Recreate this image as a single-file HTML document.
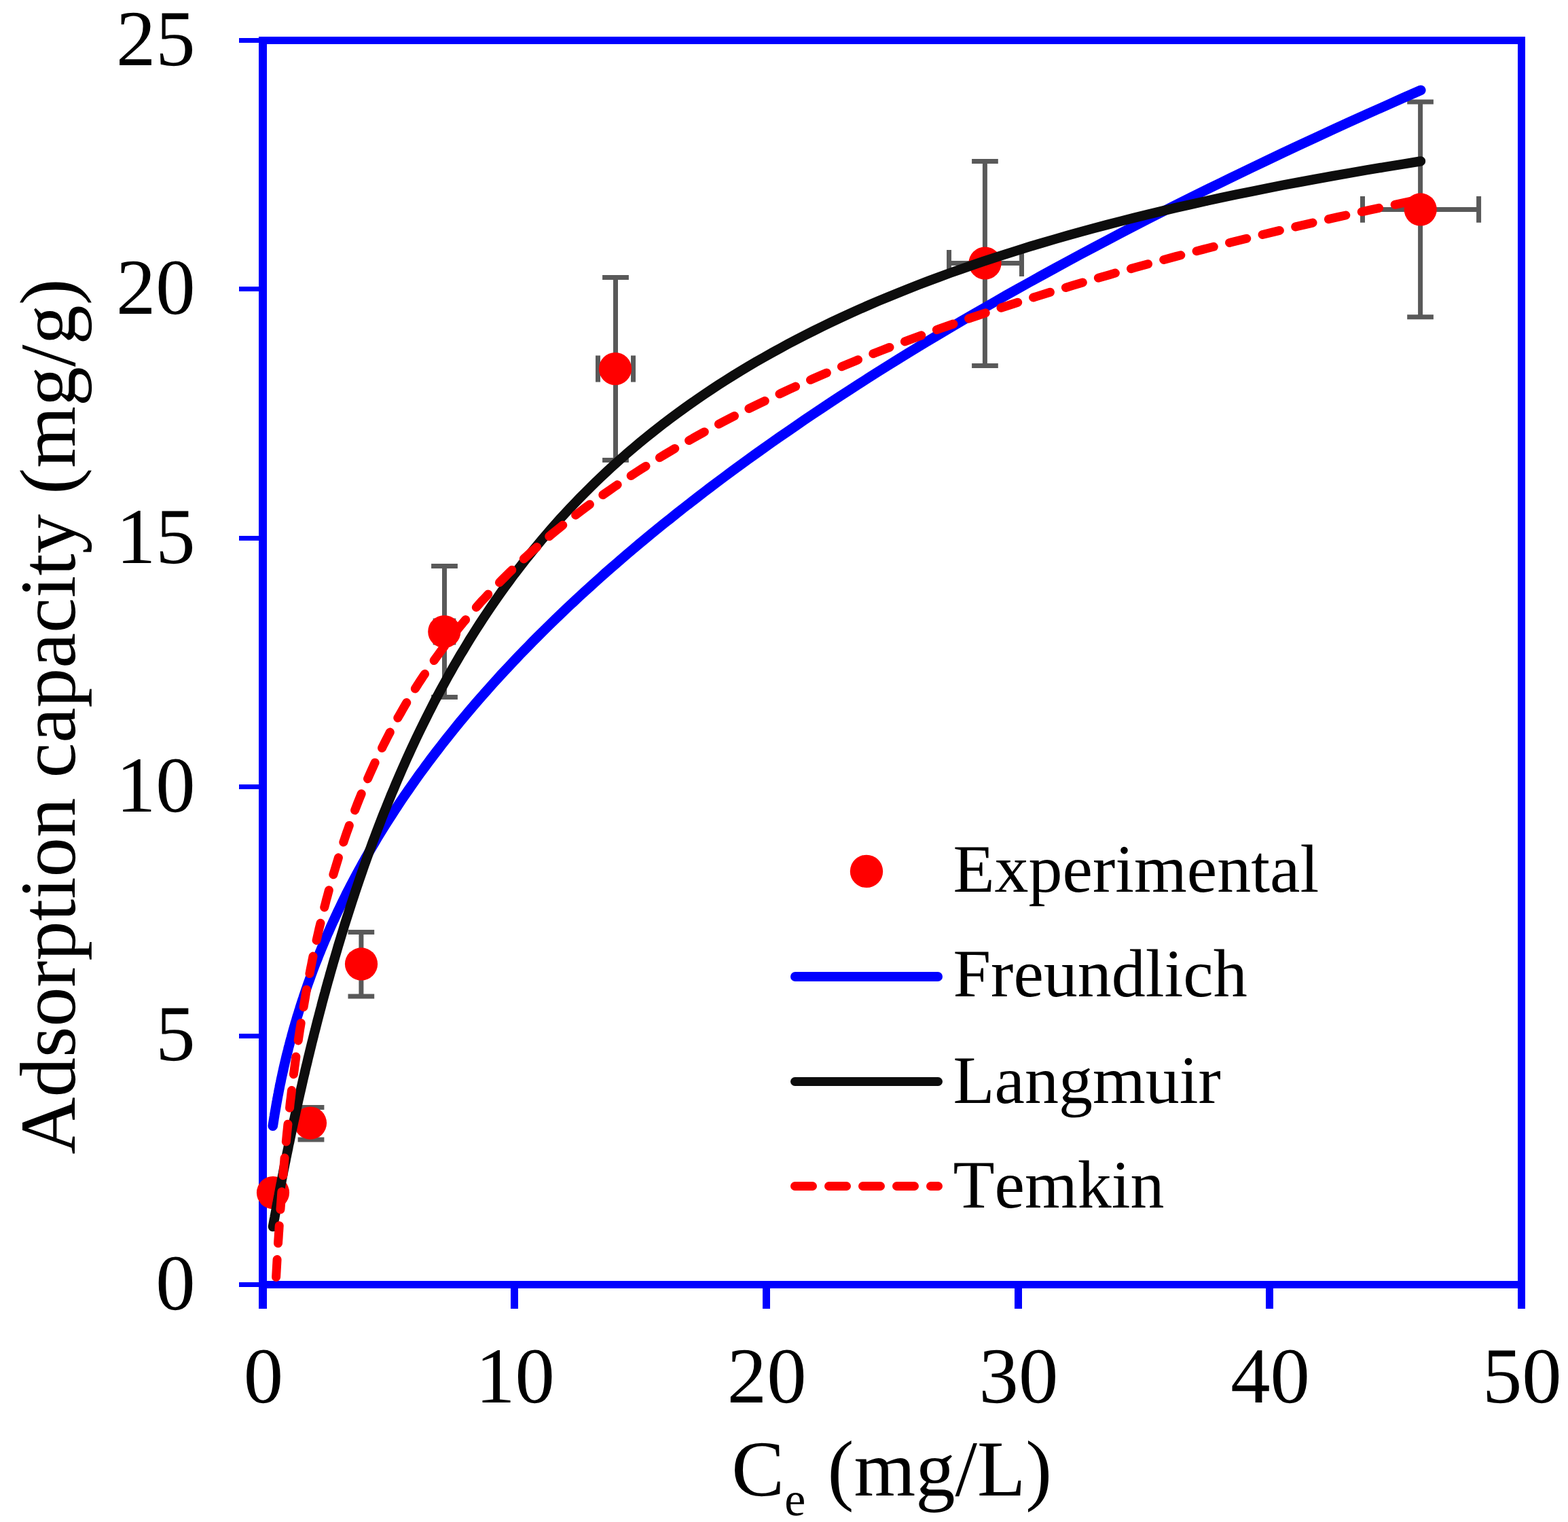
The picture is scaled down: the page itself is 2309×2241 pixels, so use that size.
<!DOCTYPE html>
<html lang="en"><head><meta charset="utf-8"><title>Adsorption isotherms</title>
<style>html,body{margin:0;padding:0;background:#fff}body{width:2309px;height:2241px;overflow:hidden}svg{display:block}text{font-family:"Liberation Serif","DejaVu Serif",serif;fill:#000;font-kerning:none;font-feature-settings:"kern" 0,"liga" 0;text-rendering:geometricPrecision}</style></head><body>
<svg width="2309" height="2241" viewBox="0 0 2309 2241" font-size="116.67">
<rect width="2309" height="2241" fill="#fff"/>
<g fill="#0000FF">
<rect x="381" y="54" width="1865" height="11"/>
<rect x="381" y="1886" width="1865" height="11"/>
<rect x="381" y="54" width="12" height="1873"/>
<rect x="2235" y="54" width="11" height="1873"/>
<rect x="752.0" y="1890" width="11" height="37"/>
<rect x="1123.0" y="1890" width="11" height="37"/>
<rect x="1494.0" y="1890" width="11" height="37"/>
<rect x="1864.0" y="1890" width="11" height="37"/>
<rect x="352" y="1888.0" width="32" height="7"/>
<rect x="352" y="1522.0" width="32" height="7"/>
<rect x="352" y="1155.0" width="32" height="7"/>
<rect x="352" y="789.0" width="32" height="7"/>
<rect x="352" y="422.0" width="32" height="7"/>
<rect x="352" y="56.0" width="32" height="7"/>
</g>
<g stroke="#595959" stroke-width="7.00" fill="none">
<path d="M458.0,1630.4 V1678.0 M438.6,1630.4 H477.4 M438.6,1678.0 H477.4"/>
<path d="M531.9,1372.5 V1467.0 M512.5,1372.5 H551.2 M512.5,1467.0 H551.2"/>
<path d="M654.5,833.5 V1026.5 M635.1,833.5 H673.9 M635.1,1026.5 H673.9"/>
<path d="M641.2,930.0 H667.8 M641.2,910.6 V949.4 M667.8,910.6 V949.4"/>
<path d="M906.5,408.5 V677.5 M887.1,408.5 H925.9 M887.1,677.5 H925.9"/>
<path d="M880.5,543.0 H932.5 M880.5,523.6 V562.4 M932.5,523.6 V562.4"/>
<path d="M1450.4,237.5 V538.4 M1431.1,237.5 H1469.8 M1431.1,538.4 H1469.8"/>
<path d="M1397.5,387.5 H1504.5 M1397.5,368.1 V406.9 M1504.5,368.1 V406.9"/>
<path d="M2091.6,150.0 V466.8 M2072.2,150.0 H2110.9 M2072.2,466.8 H2110.9"/>
<path d="M2006.5,308.4 H2177.6 M2006.5,289.0 V327.8 M2177.6,289.0 V327.8"/>
</g>
<g fill="#FF0000">
<circle cx="402.0" cy="1756.1" r="24.1"/>
<circle cx="457.0" cy="1653.6" r="24.1"/>
<circle cx="532.0" cy="1419.4" r="24.1"/>
<circle cx="654.3" cy="930.0" r="24.1"/>
<circle cx="906.0" cy="543.0" r="24.1"/>
<circle cx="1450.5" cy="387.5" r="24.1"/>
<circle cx="2091.7" cy="308.4" r="24.1"/>
</g>
<g fill="none" stroke-linecap="round" stroke-linejoin="round">
<path stroke="#0000FF" stroke-width="14.6" d="M401.8,1657.8 L402.0,1656.2 L402.3,1654.6 L402.5,1653.0 L402.8,1651.4 L403.0,1649.8 L403.3,1648.2 L403.5,1646.5 L403.8,1644.9 L404.1,1643.2 L404.3,1641.5 L404.6,1639.9 L404.9,1638.2 L405.2,1636.5 L405.5,1634.7 L405.8,1633.0 L406.1,1631.3 L406.4,1629.5 L406.7,1627.7 L407.0,1625.9 L407.3,1624.2 L407.6,1622.3 L408.0,1620.5 L408.3,1618.7 L408.6,1616.9 L409.0,1615.0 L409.3,1613.1 L409.7,1611.3 L410.1,1609.4 L410.4,1607.5 L410.8,1605.5 L411.2,1603.6 L411.6,1601.7 L411.9,1599.7 L412.3,1597.7 L412.7,1595.8 L413.2,1593.8 L413.6,1591.8 L414.0,1589.7 L414.4,1587.7 L414.9,1585.6 L415.3,1583.6 L415.8,1581.5 L416.2,1579.4 L416.7,1577.3 L417.2,1575.2 L417.6,1573.0 L418.1,1570.9 L418.6,1568.7 L419.1,1566.6 L419.6,1564.4 L420.2,1562.2 L420.7,1559.9 L421.2,1557.7 L421.8,1555.4 L422.3,1553.2 L422.9,1550.9 L423.5,1548.6 L424.1,1546.3 L424.6,1543.9 L425.2,1541.6 L425.9,1539.2 L426.5,1536.9 L427.1,1534.5 L427.7,1532.1 L428.4,1529.6 L429.1,1527.2 L429.7,1524.7 L430.4,1522.2 L431.1,1519.8 L431.8,1517.2 L432.5,1514.7 L433.2,1512.2 L434.0,1509.6 L434.7,1507.0 L435.5,1504.4 L436.3,1501.8 L437.0,1499.2 L437.8,1496.5 L438.7,1493.9 L439.5,1491.2 L440.3,1488.5 L441.2,1485.8 L442.0,1483.0 L442.9,1480.3 L443.8,1477.5 L444.7,1474.7 L445.6,1471.9 L446.6,1469.1 L447.5,1466.2 L448.5,1463.3 L449.5,1460.4 L450.5,1457.5 L451.5,1454.6 L452.5,1451.7 L453.5,1448.7 L454.6,1445.7 L455.7,1442.7 L456.8,1439.7 L457.9,1436.6 L459.0,1433.5 L460.2,1430.4 L461.3,1427.3 L462.5,1424.2 L463.7,1421.0 L464.9,1417.9 L466.2,1414.7 L467.5,1411.5 L468.7,1408.2 L470.0,1405.0 L471.4,1401.7 L472.7,1398.4 L474.1,1395.0 L475.5,1391.7 L476.9,1388.3 L478.3,1384.9 L479.8,1381.5 L481.2,1378.0 L482.7,1374.6 L484.3,1371.1 L485.8,1367.6 L487.4,1364.0 L489.0,1360.5 L490.6,1356.9 L492.3,1353.3 L494.0,1349.7 L495.7,1346.0 L497.4,1342.3 L499.2,1338.6 L501.0,1334.9 L502.8,1331.1 L504.6,1327.3 L506.5,1323.5 L508.4,1319.7 L510.3,1315.8 L512.3,1311.9 L514.3,1308.0 L516.3,1304.1 L518.4,1300.1 L520.5,1296.1 L522.6,1292.1 L524.8,1288.1 L527.0,1284.0 L529.2,1279.9 L531.5,1275.8 L533.8,1271.6 L536.1,1267.4 L538.5,1263.2 L540.9,1259.0 L543.4,1254.7 L545.9,1250.4 L548.4,1246.1 L551.0,1241.7 L553.6,1237.3 L556.2,1232.9 L558.9,1228.5 L561.7,1224.0 L564.5,1219.5 L567.3,1215.0 L570.2,1210.4 L573.1,1205.8 L576.1,1201.2 L579.1,1196.5 L582.1,1191.8 L585.3,1187.1 L588.4,1182.3 L591.6,1177.5 L594.9,1172.7 L598.2,1167.9 L601.6,1163.0 L605.0,1158.1 L608.5,1153.1 L612.0,1148.1 L615.6,1143.1 L619.2,1138.1 L623.0,1133.0 L626.7,1127.9 L630.5,1122.7 L634.4,1117.5 L638.4,1112.3 L642.4,1107.0 L646.5,1101.7 L650.6,1096.4 L654.8,1091.0 L659.1,1085.6 L663.4,1080.2 L667.8,1074.7 L672.3,1069.2 L676.8,1063.6 L681.5,1058.1 L686.2,1052.4 L690.9,1046.8 L695.8,1041.1 L700.7,1035.3 L705.7,1029.5 L710.8,1023.7 L716.0,1017.9 L721.2,1012.0 L726.5,1006.0 L731.9,1000.1 L737.4,994.0 L743.0,988.0 L748.7,981.9 L754.5,975.7 L760.3,969.6 L766.3,963.3 L772.3,957.1 L778.5,950.8 L784.7,944.4 L791.1,938.0 L797.5,931.6 L804.1,925.1 L810.7,918.6 L817.5,912.0 L824.3,905.4 L831.3,898.7 L838.4,892.0 L845.6,885.3 L852.9,878.5 L860.4,871.7 L867.9,864.8 L875.6,857.8 L883.4,850.9 L891.3,843.8 L899.3,836.8 L907.5,829.7 L915.8,822.5 L924.2,815.3 L932.8,808.0 L941.5,800.7 L950.3,793.3 L959.3,785.9 L968.5,778.4 L977.7,770.9 L987.2,763.4 L996.7,755.8 L1006.4,748.1 L1016.3,740.4 L1026.4,732.6 L1036.6,724.8 L1046.9,716.9 L1057.4,709.0 L1068.1,701.0 L1079.0,692.9 L1090.0,684.9 L1101.3,676.7 L1112.6,668.5 L1124.2,660.3 L1136.0,651.9 L1147.9,643.6 L1160.1,635.2 L1172.4,626.7 L1184.9,618.1 L1197.6,609.5 L1210.6,600.9 L1223.7,592.2 L1237.0,583.4 L1250.6,574.6 L1264.4,565.7 L1278.4,556.7 L1292.6,547.7 L1307.0,538.6 L1321.7,529.5 L1336.6,520.3 L1351.8,511.1 L1367.1,501.7 L1382.8,492.4 L1398.7,482.9 L1414.8,473.4 L1431.2,463.8 L1447.8,454.2 L1464.8,444.5 L1481.9,434.7 L1499.4,424.9 L1517.1,415.0 L1535.2,405.0 L1553.5,395.0 L1572.1,384.9 L1591.0,374.7 L1610.2,364.5 L1629.7,354.2 L1649.5,343.8 L1669.7,333.3 L1690.1,322.8 L1710.9,312.2 L1732.0,301.6 L1753.5,290.8 L1775.2,280.0 L1797.4,269.2 L1819.9,258.2 L1842.7,247.2 L1866.0,236.1 L1889.5,224.9 L1913.5,213.7 L1937.9,202.3 L1962.6,190.9 L1987.7,179.4 L2013.2,167.9 L2039.2,156.3 L2065.5,144.5 L2092.3,132.8"/>
<path stroke="#0D0D0D" stroke-width="14.3" d="M401.9,1806.2 L402.1,1804.9 L402.4,1803.6 L402.6,1802.3 L402.9,1800.9 L403.1,1799.5 L403.4,1798.1 L403.6,1796.7 L403.9,1795.3 L404.2,1793.8 L404.5,1792.3 L404.7,1790.8 L405.0,1789.3 L405.3,1787.7 L405.6,1786.2 L405.9,1784.6 L406.2,1782.9 L406.5,1781.3 L406.8,1779.6 L407.1,1778.0 L407.4,1776.2 L407.8,1774.5 L408.1,1772.8 L408.4,1771.0 L408.8,1769.2 L409.1,1767.3 L409.5,1765.5 L409.8,1763.6 L410.2,1761.7 L410.6,1759.7 L410.9,1757.8 L411.3,1755.8 L411.7,1753.8 L412.1,1751.7 L412.5,1749.7 L412.9,1747.6 L413.3,1745.4 L413.7,1743.3 L414.2,1741.1 L414.6,1738.9 L415.0,1736.6 L415.5,1734.3 L415.9,1732.0 L416.4,1729.7 L416.9,1727.3 L417.3,1724.9 L417.8,1722.5 L418.3,1720.0 L418.8,1717.5 L419.3,1715.0 L419.8,1712.4 L420.4,1709.8 L420.9,1707.2 L421.4,1704.5 L422.0,1701.9 L422.5,1699.1 L423.1,1696.4 L423.7,1693.5 L424.3,1690.7 L424.8,1687.8 L425.4,1684.9 L426.1,1682.0 L426.7,1679.0 L427.3,1676.0 L428.0,1672.9 L428.6,1669.8 L429.3,1666.7 L429.9,1663.5 L430.6,1660.3 L431.3,1657.1 L432.0,1653.8 L432.7,1650.4 L433.5,1647.1 L434.2,1643.7 L435.0,1640.2 L435.7,1636.7 L436.5,1633.2 L437.3,1629.6 L438.1,1626.0 L438.9,1622.3 L439.7,1618.6 L440.6,1614.9 L441.4,1611.1 L442.3,1607.3 L443.2,1603.4 L444.1,1599.5 L445.0,1595.5 L445.9,1591.5 L446.8,1587.5 L447.8,1583.4 L448.8,1579.3 L449.7,1575.1 L450.7,1570.9 L451.8,1566.6 L452.8,1562.3 L453.8,1557.9 L454.9,1553.5 L456.0,1549.0 L457.1,1544.5 L458.2,1540.0 L459.3,1535.4 L460.5,1530.8 L461.7,1526.1 L462.8,1521.3 L464.1,1516.6 L465.3,1511.7 L466.5,1506.9 L467.8,1501.9 L469.1,1497.0 L470.4,1492.0 L471.7,1486.9 L473.1,1481.8 L474.4,1476.6 L475.8,1471.4 L477.2,1466.2 L478.7,1460.9 L480.1,1455.5 L481.6,1450.1 L483.1,1444.7 L484.7,1439.2 L486.2,1433.7 L487.8,1428.1 L489.4,1422.5 L491.0,1416.8 L492.7,1411.1 L494.4,1405.3 L496.1,1399.5 L497.8,1393.6 L499.6,1387.7 L501.4,1381.7 L503.2,1375.7 L505.1,1369.7 L506.9,1363.6 L508.8,1357.5 L510.8,1351.3 L512.8,1345.1 L514.8,1338.8 L516.8,1332.5 L518.9,1326.1 L521.0,1319.7 L523.1,1313.3 L525.3,1306.8 L527.5,1300.3 L529.7,1293.7 L532.0,1287.1 L534.3,1280.5 L536.6,1273.8 L539.0,1267.1 L541.4,1260.3 L543.9,1253.5 L546.4,1246.7 L548.9,1239.8 L551.5,1232.9 L554.1,1225.9 L556.8,1218.9 L559.5,1211.9 L562.2,1204.8 L565.0,1197.7 L567.9,1190.6 L570.7,1183.5 L573.7,1176.3 L576.6,1169.0 L579.7,1161.8 L582.7,1154.5 L585.8,1147.2 L589.0,1139.9 L592.2,1132.5 L595.5,1125.1 L598.8,1117.7 L602.2,1110.2 L605.6,1102.8 L609.1,1095.3 L612.6,1087.8 L616.2,1080.2 L619.9,1072.7 L623.6,1065.1 L627.4,1057.5 L631.2,1049.9 L635.1,1042.2 L639.0,1034.6 L643.0,1026.9 L647.1,1019.2 L651.3,1011.5 L655.5,1003.8 L659.7,996.1 L664.1,988.4 L668.5,980.6 L673.0,972.9 L677.5,965.1 L682.2,957.4 L686.9,949.6 L691.6,941.8 L696.5,934.0 L701.4,926.2 L706.4,918.5 L711.5,910.7 L716.7,902.9 L721.9,895.1 L727.3,887.3 L732.7,879.5 L738.2,871.7 L743.8,863.9 L749.5,856.2 L755.2,848.4 L761.1,840.6 L767.1,832.9 L773.1,825.1 L779.3,817.4 L785.5,809.7 L791.9,802.0 L798.3,794.3 L804.9,786.6 L811.5,778.9 L818.3,771.2 L825.1,763.6 L832.1,756.0 L839.2,748.4 L846.4,740.8 L853.7,733.2 L861.2,725.7 L868.7,718.2 L876.4,710.7 L884.2,703.2 L892.1,695.7 L900.1,688.3 L908.3,680.9 L916.6,673.5 L925.0,666.2 L933.6,658.9 L942.3,651.6 L951.2,644.3 L960.1,637.1 L969.3,629.9 L978.5,622.7 L988.0,615.6 L997.5,608.5 L1007.3,601.4 L1017.1,594.4 L1027.2,587.4 L1037.4,580.4 L1047.7,573.5 L1058.2,566.6 L1068.9,559.8 L1079.8,552.9 L1090.8,546.2 L1102.0,539.4 L1113.4,532.7 L1125.0,526.1 L1136.7,519.5 L1148.7,512.9 L1160.8,506.3 L1173.1,499.9 L1185.7,493.4 L1198.4,487.0 L1211.3,480.6 L1224.4,474.3 L1237.8,468.0 L1251.3,461.8 L1265.1,455.6 L1279.1,449.4 L1293.3,443.3 L1307.7,437.3 L1322.4,431.3 L1337.3,425.3 L1352.4,419.4 L1367.8,413.5 L1383.4,407.7 L1399.2,401.9 L1415.4,396.2 L1431.7,390.5 L1448.4,384.8 L1465.3,379.2 L1482.5,373.7 L1499.9,368.2 L1517.6,362.7 L1535.6,357.3 L1553.9,352.0 L1572.5,346.6 L1591.4,341.4 L1610.6,336.2 L1630.0,331.0 L1649.8,325.9 L1670.0,320.8 L1690.4,315.8 L1711.1,310.8 L1732.2,305.8 L1753.7,301.0 L1775.4,296.1 L1797.5,291.3 L1820.0,286.6 L1842.8,281.9 L1866.0,277.2 L1889.6,272.6 L1913.5,268.1 L1937.8,263.6 L1962.5,259.1 L1987.6,254.7 L2013.1,250.3 L2039.0,246.0 L2065.3,241.7 L2092.0,237.4"/>
<path stroke="#FF0000" stroke-width="13" stroke-dasharray="26 24" stroke-dashoffset="0" d="M406.6,1880.5 L406.9,1875.2 L407.2,1869.9 L407.5,1864.6 L407.8,1859.3 L408.1,1854.0 L408.4,1848.8 L408.8,1843.5 L409.1,1838.2 L409.4,1832.9 L409.7,1827.6 L410.1,1822.3 L410.4,1817.0 L410.8,1811.7 L411.1,1806.4 L411.5,1801.1 L411.9,1795.8 L412.2,1790.6 L412.6,1785.3 L413.0,1780.0 L413.4,1774.7 L413.8,1769.4 L414.2,1764.1 L414.6,1758.8 L415.0,1753.5 L415.4,1748.2 L415.9,1742.9 L416.3,1737.7 L416.7,1732.4 L417.2,1727.1 L417.6,1721.8 L418.1,1716.5 L418.6,1711.2 L419.0,1705.9 L419.5,1700.6 L420.0,1695.3 L420.5,1690.0 L421.0,1684.7 L421.5,1679.5 L422.0,1674.2 L422.5,1668.9 L423.1,1663.6 L423.6,1658.3 L424.2,1653.0 L424.7,1647.7 L425.3,1642.4 L425.9,1637.1 L426.5,1631.8 L427.0,1626.5 L427.6,1621.3 L428.3,1616.0 L428.9,1610.7 L429.5,1605.4 L430.1,1600.1 L430.8,1594.8 L431.4,1589.5 L432.1,1584.2 L432.8,1578.9 L433.5,1573.6 L434.2,1568.3 L434.9,1563.1 L435.6,1557.8 L436.3,1552.5 L437.1,1547.2 L437.8,1541.9 L438.6,1536.6 L439.3,1531.3 L440.1,1526.0 L440.9,1520.7 L441.7,1515.4 L442.6,1510.1 L443.4,1504.9 L444.2,1499.6 L445.1,1494.3 L446.0,1489.0 L446.9,1483.7 L447.8,1478.4 L448.7,1473.1 L449.6,1467.8 L450.5,1462.5 L451.5,1457.2 L452.4,1452.0 L453.4,1446.7 L454.4,1441.4 L455.4,1436.1 L456.5,1430.8 L457.5,1425.5 L458.6,1420.2 L459.6,1414.9 L460.7,1409.6 L461.8,1404.3 L462.9,1399.0 L464.1,1393.8 L465.2,1388.5 L466.4,1383.2 L467.6,1377.9 L468.8,1372.6 L470.0,1367.3 L471.3,1362.0 L472.6,1356.7 L473.8,1351.4 L475.1,1346.1 L476.5,1340.8 L477.8,1335.6 L479.2,1330.3 L480.5,1325.0 L482.0,1319.7 L483.4,1314.4 L484.8,1309.1 L486.3,1303.8 L487.8,1298.5 L489.3,1293.2 L490.8,1287.9 L492.4,1282.6 L494.0,1277.4 L495.6,1272.1 L497.2,1266.8 L498.8,1261.5 L500.5,1256.2 L502.2,1250.9 L504.0,1245.6 L505.7,1240.3 L507.5,1235.0 L509.3,1229.7 L511.1,1224.4 L513.0,1219.2 L514.9,1213.9 L516.8,1208.6 L518.7,1203.3 L520.7,1198.0 L522.7,1192.7 L524.8,1187.4 L526.8,1182.1 L528.9,1176.8 L531.1,1171.5 L533.2,1166.3 L535.4,1161.0 L537.6,1155.7 L539.9,1150.4 L542.2,1145.1 L544.5,1139.8 L546.9,1134.5 L549.3,1129.2 L551.7,1123.9 L554.2,1118.6 L556.7,1113.3 L559.2,1108.1 L561.8,1102.8 L564.4,1097.5 L567.1,1092.2 L569.8,1086.9 L572.5,1081.6 L575.3,1076.3 L578.1,1071.0 L581.0,1065.7 L583.9,1060.4 L586.9,1055.1 L589.9,1049.9 L592.9,1044.6 L596.0,1039.3 L599.1,1034.0 L602.3,1028.7 L605.5,1023.4 L608.8,1018.1 L612.2,1012.8 L615.5,1007.5 L619.0,1002.2 L622.4,996.9 L626.0,991.7 L629.6,986.4 L633.2,981.1 L636.9,975.8 L640.6,970.5 L644.4,965.2 L648.3,959.9 L652.2,954.6 L656.2,949.3 L660.2,944.0 L664.3,938.8 L668.5,933.5 L672.7,928.2 L677.0,922.9 L681.3,917.6 L685.8,912.3 L690.2,907.0 L694.8,901.7 L699.4,896.4 L704.1,891.1 L708.8,885.8 L713.7,880.6 L718.6,875.3 L723.5,870.0 L728.6,864.7 L733.7,859.4 L738.9,854.1 L744.2,848.8 L749.5,843.5 L755.0,838.2 L760.5,832.9 L766.1,827.6 L771.8,822.4 L777.6,817.1 L783.4,811.8 L789.4,806.5 L795.4,801.2 L801.5,795.9 L807.7,790.6 L814.0,785.3 L820.5,780.0 L827.0,774.7 L833.5,769.4 L840.2,764.2 L847.0,758.9 L853.9,753.6 L860.9,748.3 L868.1,743.0 L875.3,737.7 L882.6,732.4 L890.0,727.1 L897.6,721.8 L905.2,716.5 L913.0,711.2 L920.9,706.0 L928.9,700.7 L937.0,695.4 L945.3,690.1 L953.6,684.8 L962.1,679.5 L970.8,674.2 L979.5,668.9 L988.4,663.6 L997.4,658.3 L1006.6,653.1 L1015.9,647.8 L1025.3,642.5 L1034.9,637.2 L1044.6,631.9 L1054.5,626.6 L1064.5,621.3 L1074.6,616.0 L1084.9,610.7 L1095.4,605.4 L1106.0,600.1 L1116.8,594.9 L1127.8,589.6 L1138.9,584.3 L1150.2,579.0 L1161.6,573.7 L1173.2,568.4 L1185.0,563.1 L1197.0,557.8 L1209.1,552.5 L1221.5,547.2 L1234.0,541.9 L1246.7,536.7 L1259.6,531.4 L1272.6,526.1 L1285.9,520.8 L1299.4,515.5 L1313.1,510.2 L1327.0,504.9 L1341.1,499.6 L1355.4,494.3 L1369.9,489.0 L1384.7,483.7 L1399.6,478.5 L1414.8,473.2 L1430.2,467.9 L1445.9,462.6 L1461.8,457.3 L1477.9,452.0 L1494.2,446.7 L1510.8,441.4 L1527.7,436.1 L1544.8,430.8 L1562.2,425.6 L1579.8,420.3 L1597.7,415.0 L1615.8,409.7 L1634.3,404.4 L1653.0,399.1 L1672.0,393.8 L1691.2,388.5 L1710.8,383.2 L1730.6,377.9 L1750.8,372.6 L1771.2,367.4 L1792.0,362.1 L1813.1,356.8 L1834.5,351.5 L1856.2,346.2 L1878.2,340.9 L1900.6,335.6 L1923.3,330.3 L1946.3,325.0 L1969.7,319.7 L1993.4,314.4 L2017.5,309.2 L2042.0,303.9 L2066.8,298.6 L2092.0,293.3"/>
</g>
<g text-anchor="end">
<text x="287.6" y="1927.8">0</text>
<text x="287.6" y="1561.4">5</text>
<text x="287.6" y="1195.0">10</text>
<text x="287.6" y="828.6">15</text>
<text x="287.6" y="462.2">20</text>
<text x="287.6" y="95.8">25</text>
</g>
<g text-anchor="middle">
<text x="387.8" y="2065.0">0</text>
<text x="758.5" y="2065.0">10</text>
<text x="1129.2" y="2065.0">20</text>
<text x="1499.9" y="2065.0">30</text>
<text x="1870.6" y="2065.0">40</text>
<text x="2241.3" y="2065.0">50</text>
</g>
<text id="xt" x="1077.3" y="2201.6" style="white-space:pre">C<tspan x="1155.3" y="2230.6" font-size="70">e</tspan><tspan x="1189.43" y="2201.6"> (mg/L)</tspan></text>
<text id="yt" text-anchor="middle" transform="translate(110,1055) rotate(-90)">Adsorption capacity (mg/g)</text>
<circle cx="1276" cy="1282.9" r="24.2" fill="#FF0000"/>
<g fill="none" stroke-linecap="round">
<line x1="1171" y1="1438" x2="1381" y2="1438" stroke="#0000FF" stroke-width="14"/>
<line x1="1170.5" y1="1592.5" x2="1381.5" y2="1592.5" stroke="#0D0D0D" stroke-width="13"/>
<line x1="1170.5" y1="1746.5" x2="1381.5" y2="1746.5" stroke="#FF0000" stroke-width="13" stroke-dasharray="26 24"/>
</g>
<g font-size="100">
<text id="l1" x="1403.5" y="1313.2">Experimental</text>
<text id="l2" x="1403.5" y="1467">Freundlich</text>
<text id="l3" x="1403.5" y="1624">Langmuir</text>
<text id="l4" x="1403.5" y="1777.8">Temkin</text>
</g>
</svg></body></html>
